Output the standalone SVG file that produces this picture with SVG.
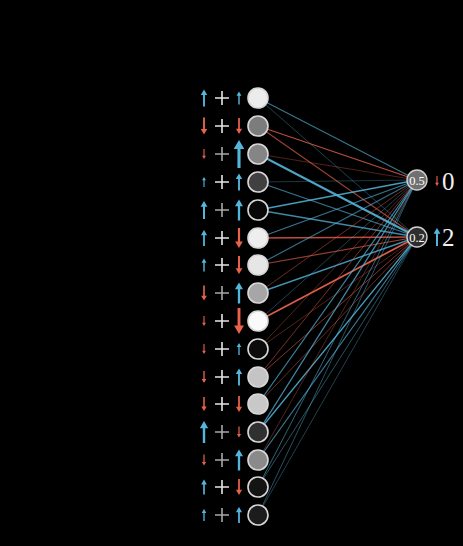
<svg xmlns="http://www.w3.org/2000/svg" xmlns:xlink="http://www.w3.org/1999/xlink" width="463" height="546" viewBox="0 0 463 546">
<style>
.bg{fill:#000}
.ln{fill:none;stroke-linecap:round}
.r{stroke:#e8624c}
.t{stroke:#55b6dc}
.ar{fill:#e8624c}
.ab{fill:#55b6dc}
.pl{stroke:#e6e6e6;stroke-width:1.6;fill:none}
.pg{stroke:#a8a8a8;stroke-width:1.6;fill:none}
.nd{stroke:#d8d8d8;stroke-width:1.6}
.on{stroke:#d0d0d0;stroke-width:1.4}
.ot{font-family:"Liberation Serif","DejaVu Serif",serif;font-size:12.5px;fill:#fff;text-anchor:middle}
.lb{font-family:"Liberation Serif","DejaVu Serif",serif;font-size:25px;fill:#f0f0f0}
</style>
<defs>
<path id="u" d="M-1.1,10 L-1.1,-3.5 L-3.8,-3.5 L0,-10 L3.8,-3.5 L1.1,-3.5 L1.1,10 Z"/>
<path id="d" d="M-1.1,-10 L-1.1,3.5 L-3.8,3.5 L0,10 L3.8,3.5 L1.1,3.5 L1.1,-10 Z"/>
<path id="p" d="M-7,0 H7 M0,-7 V7"/>
</defs>
<rect class="bg" x="0" y="0" width="463" height="546"/>
<g id="connectors">
<line class="ln t" x1="258" y1="98" x2="417" y2="180" stroke-width="1.1" opacity="0.65"/>
<line class="ln t" x1="258" y1="98" x2="417" y2="237" stroke-width="1" opacity="0.35"/>
<line class="ln r" x1="258" y1="126" x2="417" y2="180" stroke-width="1.2" opacity="0.8"/>
<line class="ln r" x1="258" y1="126" x2="417" y2="237" stroke-width="1.2" opacity="0.65"/>
<line class="ln r" x1="258" y1="154" x2="417" y2="180" stroke-width="1" opacity="0.35"/>
<line class="ln t" x1="258" y1="154" x2="417" y2="237" stroke-width="2" opacity="0.9"/>
<line class="ln t" x1="258" y1="182" x2="417" y2="180" stroke-width="1" opacity="0.3"/>
<line class="ln t" x1="258" y1="182" x2="417" y2="237" stroke-width="1.2" opacity="0.65"/>
<line class="ln t" x1="258" y1="210" x2="417" y2="180" stroke-width="1.4" opacity="0.85"/>
<line class="ln t" x1="258" y1="210" x2="417" y2="237" stroke-width="1.4" opacity="0.75"/>
<line class="ln t" x1="258" y1="238" x2="417" y2="180" stroke-width="1.2" opacity="0.65"/>
<line class="ln r" x1="258" y1="238" x2="417" y2="237" stroke-width="1.3" opacity="0.8"/>
<line class="ln t" x1="258" y1="265" x2="417" y2="180" stroke-width="1.2" opacity="0.6"/>
<line class="ln r" x1="258" y1="265" x2="417" y2="237" stroke-width="1.2" opacity="0.65"/>
<line class="ln r" x1="258" y1="293" x2="417" y2="180" stroke-width="1" opacity="0.45"/>
<line class="ln t" x1="258" y1="293" x2="417" y2="237" stroke-width="1.4" opacity="0.8"/>
<line class="ln t" x1="258" y1="321" x2="417" y2="180" stroke-width="1" opacity="0.35"/>
<line class="ln r" x1="258" y1="321" x2="417" y2="237" stroke-width="1.7" opacity="0.95"/>
<line class="ln r" x1="258" y1="349" x2="417" y2="180" stroke-width="1" opacity="0.35"/>
<line class="ln r" x1="258" y1="349" x2="417" y2="237" stroke-width="1" opacity="0.35"/>
<line class="ln r" x1="258" y1="377" x2="417" y2="180" stroke-width="1" opacity="0.5"/>
<line class="ln r" x1="258" y1="377" x2="417" y2="237" stroke-width="1" opacity="0.55"/>
<line class="ln t" x1="258" y1="404" x2="417" y2="180" stroke-width="1.2" opacity="0.7"/>
<line class="ln r" x1="258" y1="404" x2="417" y2="237" stroke-width="1" opacity="0.45"/>
<line class="ln t" x1="258" y1="432" x2="417" y2="180" stroke-width="1.3" opacity="0.75"/>
<line class="ln t" x1="258" y1="432" x2="417" y2="237" stroke-width="1.3" opacity="0.85"/>
<line class="ln r" x1="258" y1="460" x2="417" y2="180" stroke-width="1" opacity="0.35"/>
<line class="ln t" x1="258" y1="460" x2="417" y2="237" stroke-width="1.2" opacity="0.65"/>
<line class="ln t" x1="258" y1="487" x2="417" y2="180" stroke-width="1" opacity="0.55"/>
<line class="ln t" x1="258" y1="487" x2="417" y2="237" stroke-width="1" opacity="0.45"/>
<line class="ln t" x1="258" y1="515" x2="417" y2="180" stroke-width="1" opacity="0.45"/>
<line class="ln t" x1="258" y1="515" x2="417" y2="237" stroke-width="1" opacity="0.35"/>
</g>
<g id="row1"><use xlink:href="#u" class="ab" transform="translate(204,98) scale(.85)"/><use xlink:href="#p" class="pl" transform="translate(222,98)"/><use xlink:href="#u" class="ab" transform="translate(239,98) scale(.65)"/><circle class="nd" cx="258" cy="98" r="10" fill="#ececec"/></g>
<g id="row2"><use xlink:href="#d" class="ar" transform="translate(204,126) scale(.85)"/><use xlink:href="#p" class="pl" transform="translate(222,126)"/><use xlink:href="#d" class="ar" transform="translate(239,126) scale(.8)"/><circle class="nd" cx="258" cy="126" r="10" fill="#7c7c7c"/></g>
<g id="row3"><use xlink:href="#d" class="ar" transform="translate(204,154) scale(.5)"/><use xlink:href="#p" class="pg" transform="translate(222,154)"/><use xlink:href="#u" class="ab" transform="translate(239,154) scale(1.4)"/><circle class="nd" cx="258" cy="154" r="10" fill="#858585"/></g>
<g id="row4"><use xlink:href="#u" class="ab" transform="translate(204,182) scale(.5)"/><use xlink:href="#p" class="pl" transform="translate(222,182)"/><use xlink:href="#u" class="ab" transform="translate(239,182) scale(.85)"/><circle class="nd" cx="258" cy="182" r="10" fill="#404040"/></g>
<g id="row5"><use xlink:href="#u" class="ab" transform="translate(204,210) scale(.9)"/><use xlink:href="#p" class="pg" transform="translate(222,210)"/><use xlink:href="#u" class="ab" transform="translate(239,210) scale(1.05)"/><circle class="nd" cx="258" cy="210" r="10" fill="#080808"/></g>
<g id="row6"><use xlink:href="#u" class="ab" transform="translate(204,238) scale(.8)"/><use xlink:href="#p" class="pl" transform="translate(222,238)"/><use xlink:href="#d" class="ar" transform="translate(239,238) scale(1)"/><circle class="nd" cx="258" cy="238" r="10" fill="#eeeeee"/></g>
<g id="row7"><use xlink:href="#u" class="ab" transform="translate(204,265) scale(.65)"/><use xlink:href="#p" class="pl" transform="translate(222,265)"/><use xlink:href="#d" class="ar" transform="translate(239,265) scale(.9)"/><circle class="nd" cx="258" cy="265" r="10" fill="#e6e6e6"/></g>
<g id="row8"><use xlink:href="#d" class="ar" transform="translate(204,293) scale(.75)"/><use xlink:href="#p" class="pg" transform="translate(222,293)"/><use xlink:href="#u" class="ab" transform="translate(239,293) scale(1.05)"/><circle class="nd" cx="258" cy="293" r="10" fill="#a6a6a6"/></g>
<g id="row9"><use xlink:href="#d" class="ar" transform="translate(204,321) scale(.5)"/><use xlink:href="#p" class="pl" transform="translate(222,321)"/><use xlink:href="#d" class="ar" transform="translate(239,321) scale(1.3)"/><circle class="nd" cx="258" cy="321" r="10" fill="#fafafa"/></g>
<g id="row10"><use xlink:href="#d" class="ar" transform="translate(204,349) scale(.5)"/><use xlink:href="#p" class="pl" transform="translate(222,349)"/><use xlink:href="#u" class="ab" transform="translate(239,349) scale(.6)"/><circle class="nd" cx="258" cy="349" r="10" fill="#0c0c0c"/></g>
<g id="row11"><use xlink:href="#d" class="ar" transform="translate(204,377) scale(.6)"/><use xlink:href="#p" class="pl" transform="translate(222,377)"/><use xlink:href="#u" class="ab" transform="translate(239,377) scale(.85)"/><circle class="nd" cx="258" cy="377" r="10" fill="#c4c4c4"/></g>
<g id="row12"><use xlink:href="#d" class="ar" transform="translate(204,404) scale(.7)"/><use xlink:href="#p" class="pl" transform="translate(222,404)"/><use xlink:href="#d" class="ar" transform="translate(239,404) scale(.8)"/><circle class="nd" cx="258" cy="404" r="10" fill="#c8c8c8"/></g>
<g id="row13"><use xlink:href="#u" class="ab" transform="translate(204,432) scale(1.1)"/><use xlink:href="#p" class="pg" transform="translate(222,432)"/><use xlink:href="#d" class="ar" transform="translate(239,432) scale(.55)"/><circle class="nd" cx="258" cy="432" r="10" fill="#303030"/></g>
<g id="row14"><use xlink:href="#d" class="ar" transform="translate(204,460) scale(.55)"/><use xlink:href="#p" class="pg" transform="translate(222,460)"/><use xlink:href="#u" class="ab" transform="translate(239,460) scale(1.05)"/><circle class="nd" cx="258" cy="460" r="10" fill="#8a8a8a"/></g>
<g id="row15"><use xlink:href="#u" class="ab" transform="translate(204,487) scale(.75)"/><use xlink:href="#p" class="pl" transform="translate(222,487)"/><use xlink:href="#d" class="ar" transform="translate(239,487) scale(.8)"/><circle class="nd" cx="258" cy="487" r="10" fill="#141414"/></g>
<g id="row16"><use xlink:href="#u" class="ab" transform="translate(204,515) scale(.6)"/><use xlink:href="#p" class="pg" transform="translate(222,515)"/><use xlink:href="#u" class="ab" transform="translate(239,515) scale(.8)"/><circle class="nd" cx="258" cy="515" r="10" fill="#1c1c1c"/></g>
<g id="out0"><circle class="on" cx="417" cy="180" r="10" fill="#707070"/><text class="ot" x="417" y="184.5">0.5</text><use xlink:href="#d" class="ar" transform="translate(437,181) scale(.5)"/><text class="lb" x="442" y="190">0</text></g>
<g id="out2"><circle class="on" cx="417" cy="237" r="10" fill="#2e2e2e"/><text class="ot" x="417" y="241.5">0.2</text><use xlink:href="#u" class="ab" transform="translate(437,237) scale(.9)"/><text class="lb" x="442" y="246">2</text></g>
</svg>
